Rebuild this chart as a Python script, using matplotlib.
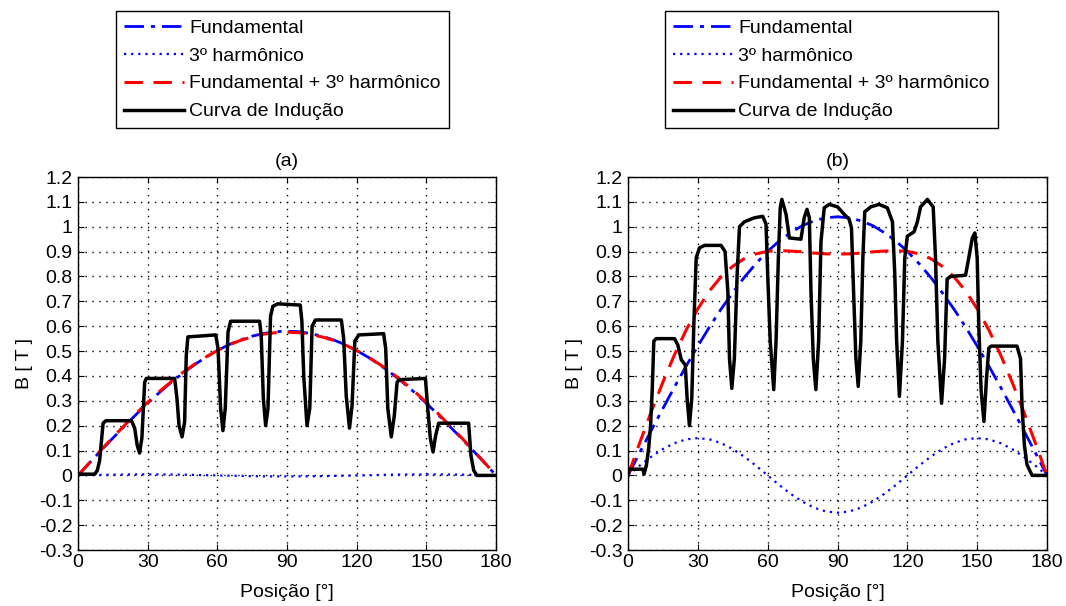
import matplotlib
matplotlib.use("Agg")
import matplotlib.pyplot as plt

plt.rcParams['font.family'] = ['Liberation Sans', 'DejaVu Sans']
plt.rcParams['font.size'] = 14

# ---------------- data ----------------
pos5 = [0, 5, 10, 15, 20, 25, 30, 35, 40, 45, 50, 55, 60, 65, 70, 75, 80, 85, 90,
        95, 100, 105, 110, 115, 120, 125, 130, 135, 140, 145, 150, 155, 160, 165, 170, 175, 180]

# panel (a)
fund_a = [0, 0.051, 0.101, 0.150, 0.198, 0.245, 0.290, 0.333, 0.373, 0.410, 0.444, 0.475, 0.502,
          0.526, 0.545, 0.560, 0.571, 0.578, 0.580,
          0.578, 0.571, 0.560, 0.545, 0.526, 0.502, 0.475, 0.444, 0.410, 0.373, 0.333, 0.290,
          0.245, 0.198, 0.150, 0.101, 0.051, 0]
harm_a = [0, 0.001, 0.002, 0.003, 0.0035, 0.004, 0.004, 0.004, 0.0035, 0.003, 0.002, 0.001, 0,
          -0.001, -0.002, -0.003, -0.0035, -0.004, -0.004,
          -0.004, -0.0035, -0.003, -0.002, -0.001, 0, 0.001, 0.002, 0.003, 0.0035, 0.004, 0.004,
          0.004, 0.0035, 0.003, 0.002, 0.001, 0]
soma_a = [0, 0.052, 0.103, 0.153, 0.201, 0.249, 0.294, 0.337, 0.376, 0.413, 0.446, 0.476, 0.502,
          0.525, 0.543, 0.557, 0.568, 0.574, 0.576,
          0.574, 0.568, 0.557, 0.543, 0.525, 0.502, 0.476, 0.446, 0.413, 0.376, 0.337, 0.294,
          0.249, 0.201, 0.153, 0.103, 0.052, 0]

ind_a_x = [0, 7.2, 8.3, 9.3, 10.2, 10.8, 12, 23, 24.4, 25.5, 26.5, 27.5, 28.7, 29.4,
           41.6, 42.6, 43.5, 44.8, 45.9, 46.6, 47.3, 59.3, 60.3, 61.4, 62.4, 63.4, 64.6, 65.7,
           78.2, 78.9, 79.8, 80.8, 81.8, 82.9, 83.9, 86, 95.7, 96.4, 97.2, 98.6, 99.8, 100.8, 102.2,
           113.4, 114.4, 115.5, 116.9, 118.0, 119.2, 120.9, 131.6, 132.5, 133.4, 134.9, 136.2, 137.4,
           138.4, 149.6, 150.6, 151.7, 152.9, 154.0, 155.3, 168.2, 169.2, 170.4, 171.8, 180]
ind_a_y = [0.005, 0.005, 0.02, 0.06, 0.15, 0.21, 0.22, 0.22, 0.19, 0.12, 0.09, 0.15, 0.375, 0.39,
           0.39, 0.31, 0.20, 0.155, 0.215, 0.48, 0.557, 0.565, 0.51, 0.27, 0.18, 0.27, 0.577, 0.62,
           0.62, 0.56, 0.31, 0.20, 0.27, 0.64, 0.68, 0.69, 0.685, 0.62, 0.40, 0.20, 0.27, 0.60, 0.625,
           0.625, 0.55, 0.32, 0.19, 0.28, 0.54, 0.565, 0.57, 0.51, 0.27, 0.155, 0.24, 0.375,
           0.385, 0.39, 0.27, 0.15, 0.094, 0.16, 0.21, 0.21, 0.08, 0.02, 0.0, 0.0]

# panel (b)
fund_b = [0, 0.091, 0.181, 0.269, 0.356, 0.440, 0.520, 0.597, 0.669, 0.735, 0.797, 0.852, 0.901,
          0.943, 0.977, 1.005, 1.024, 1.036, 1.040,
          1.036, 1.024, 1.005, 0.977, 0.943, 0.901, 0.852, 0.797, 0.735, 0.669, 0.597, 0.520,
          0.440, 0.356, 0.269, 0.181, 0.091, 0]
harm_b = [0, 0.039, 0.075, 0.106, 0.130, 0.145, 0.150, 0.145, 0.130, 0.106, 0.075, 0.039, 0,
          -0.039, -0.075, -0.106, -0.130, -0.145, -0.150,
          -0.145, -0.130, -0.106, -0.075, -0.039, 0, 0.039, 0.075, 0.106, 0.130, 0.145, 0.150,
          0.145, 0.130, 0.106, 0.075, 0.039, 0]
soma_b = [0, 0.130, 0.256, 0.375, 0.486, 0.585, 0.670, 0.742, 0.799, 0.841, 0.872, 0.891, 0.901,
          0.904, 0.902, 0.899, 0.894, 0.891, 0.890,
          0.891, 0.894, 0.899, 0.902, 0.904, 0.901, 0.891, 0.872, 0.841, 0.799, 0.742, 0.670,
          0.585, 0.486, 0.375, 0.256, 0.130, 0]

ind_b_x = [0, 0.5, 6.4, 6.9, 7.9, 8.9, 9.7, 10.4, 11.1, 12.1, 20, 21.4, 22.9, 24.6, 25.4, 26.4,
           27.4, 28.3, 29.3, 30.7, 32.9, 40, 41.7, 42.9, 43.6, 44.6, 45.7, 46.9, 47.9, 50, 54.3,
           57.9, 59.3, 60, 61.1, 62.6, 63.6, 64.6, 65.4, 66.1, 67.9, 69.3, 74.3, 75.7, 76.9, 77.9,
           78.6, 79.6, 80.7, 81.9, 82.9, 84.3, 86.4, 90, 92.9, 95, 96, 96.9, 97.9, 98.9, 100, 100.9,
           101.7, 104.3, 107.9, 111.4, 113.6, 114.6, 115.4, 116.6, 117.9, 118.9, 120, 122.9, 124.3,
           125.7, 128.6, 131.1, 132.1, 133.1, 134.7, 136, 137.1, 138.6, 145, 146.4, 147.9, 149, 150,
           150.7, 151.7, 152.9, 154, 155, 156, 167.1, 168.6, 169.3, 170.3, 171.4, 173.6, 180]
ind_b_y = [0.0, 0.025, 0.025, 0.005, 0.04, 0.11, 0.20, 0.34, 0.54, 0.55, 0.55, 0.525, 0.465,
           0.445, 0.31, 0.20, 0.31, 0.61, 0.875, 0.915, 0.925, 0.925, 0.90, 0.74, 0.47, 0.35,
           0.47, 0.81, 1.00, 1.02, 1.036, 1.042, 1.01, 0.81, 0.54, 0.345, 0.54, 0.875, 1.076,
           1.11, 1.05, 0.955, 0.95, 1.036, 1.07, 1.036, 0.74, 0.47, 0.345, 0.54, 0.94, 1.076,
           1.09, 1.08, 1.05, 1.03, 0.995, 0.74, 0.47, 0.358, 0.54, 0.875, 1.06, 1.08, 1.09, 1.076,
           1.02, 0.81, 0.54, 0.318, 0.54, 0.875, 0.962, 0.98, 1.02, 1.08, 1.11, 1.08, 0.875, 0.54,
           0.29, 0.47, 0.79, 0.80, 0.805, 0.875, 0.955, 0.975, 0.875, 0.60, 0.34, 0.217, 0.39,
           0.512, 0.52, 0.52, 0.47, 0.27, 0.12, 0.043, 0.0, 0.0]

x_ticks = [0, 30, 60, 90, 120, 150, 180]
y_ticks = [-0.3, -0.2, -0.1, 0, 0.1, 0.2, 0.3, 0.4, 0.5, 0.6, 0.7, 0.8, 0.9, 1.0, 1.1, 1.2]
y_tick_labels = ['-0.3', '-0.2', '-0.1', '0', '0.1', '0.2', '0.3', '0.4', '0.5', '0.6',
                 '0.7', '0.8', '0.9', '1', '1.1', '1.2']
labels = ['Fundamental', '3º harmônico', 'Fundamental + 3º harmônico', 'Curva de Indução']
titles = ['(a)', '(b)']

# ---------------- figure ----------------
fig = plt.figure(figsize=(10.66, 6.06), dpi=100)
axA = fig.add_axes([0.0732, 0.0924, 0.3921, 0.6155])
axB = fig.add_axes([0.5891, 0.0924, 0.3931, 0.6155])

panels = [(axA, fund_a, harm_a, soma_a, ind_a_x, ind_a_y, 0.265),
          (axB, fund_b, harm_b, soma_b, ind_b_x, ind_b_y, 0.780)]

for i, (ax, f, h, s, ix, iy, lx) in enumerate(panels):
    l1, = ax.plot(pos5, f, color=(0, 0, 1), linestyle=(0, (7, 2.5, 1.5, 2.5)), linewidth=2.0)
    l2, = ax.plot(pos5, h, color=(0, 0, 1), linestyle=(0, (1, 2.2)), linewidth=1.6)
    l3, = ax.plot(pos5, s, color=(1, 0, 0), linestyle=(0, (6, 3.5)), linewidth=2.2)
    l4, = ax.plot(ix, iy, color='black', linestyle='-', linewidth=2.5,
                  solid_joinstyle='round')
    ax.set_xlim(0, 180)
    ax.set_ylim(-0.3, 1.2)
    ax.set_xticks(x_ticks)
    ax.set_yticks(y_ticks)
    ax.set_yticklabels(y_tick_labels)
    ax.grid(True, linestyle=(0, (1, 4)), color='black', linewidth=1.0)
    ax.tick_params(direction='in', length=4, top=True, right=True, labelsize=14,
                   colors='black')
    ax.tick_params(axis='y', pad=4)
    ax.tick_params(axis='x', pad=3)
    for sp in ax.spines.values():
        sp.set_linewidth(1.0)
        sp.set_color('black')
    ax.set_xlabel('Posição [°]', fontsize=14, labelpad=9)
    ax.set_ylabel('B [ T ]', fontsize=14, labelpad=4)
    ax.set_title(titles[i], fontsize=14, pad=8)
    leg = fig.legend([l1, l2, l3, l4], labels, loc='center',
                     bbox_to_anchor=(lx, 0.885), fontsize=14, frameon=True,
                     fancybox=False, edgecolor='black', framealpha=1,
                     handlelength=3.1, handletextpad=0.26, labelspacing=0.53,
                     borderpad=0.4, borderaxespad=0)
    leg.get_frame().set_linewidth(1.0)

fig.savefig('out.png', dpi=100)
